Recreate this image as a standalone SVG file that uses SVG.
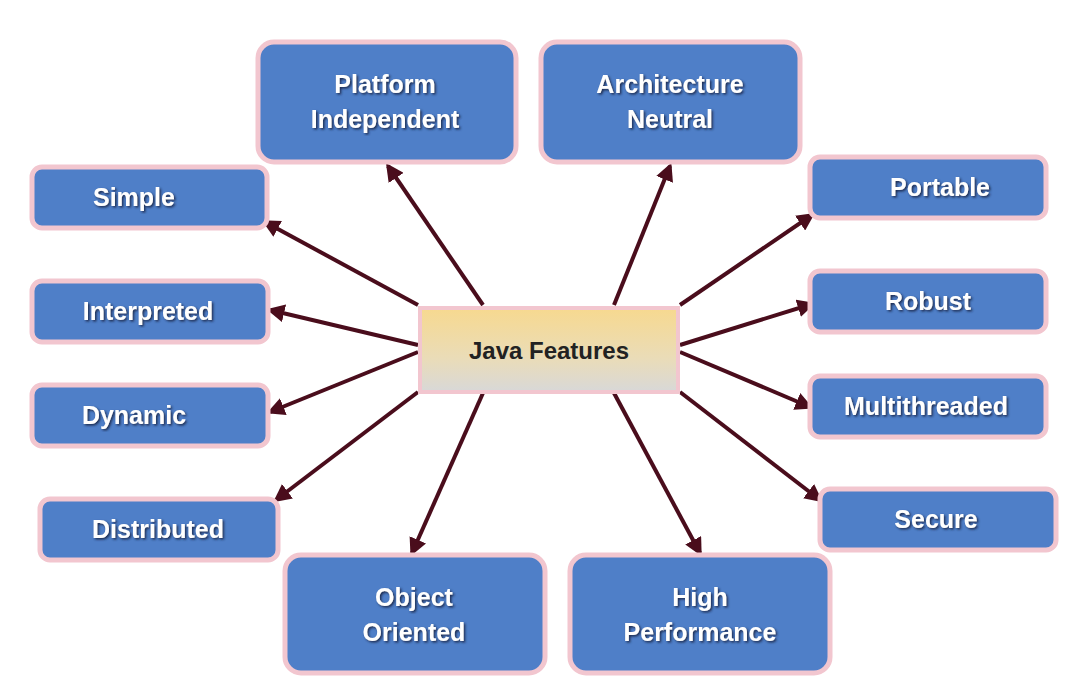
<svg xmlns="http://www.w3.org/2000/svg" width="1080" height="697" viewBox="0 0 1080 697">
<style>
.b{fill:#4f7fc8;stroke:#f2c6cf;stroke-width:5}
.t{font-family:"Liberation Sans",Arial,sans-serif;font-weight:bold;font-size:25px;fill:#fff;text-anchor:middle;filter:url(#sh)}
.c{stroke:#4a0d1c;stroke-width:4;fill:none;marker-end:url(#a)}
</style>
<defs>
<marker id="a" viewBox="0 0 10 10" refX="8" refY="5" markerWidth="4.5" markerHeight="4.5" orient="auto"><path d="M0,0L10,5L0,10z" fill="#4a0d1c"/></marker>
<linearGradient id="g" x1="0" y1="0" x2="0" y2="1"><stop offset="0" stop-color="#f7d98f"/><stop offset="0.6" stop-color="#eadcb8"/><stop offset="1" stop-color="#d8d8d8"/></linearGradient>
<filter id="sh"><feDropShadow dx="1.5" dy="1.5" stdDeviation="0.8" flood-color="#1c2a50"/></filter>
</defs>
<rect width="1080" height="697" fill="#fff"/>
<g id="connectors">
<line class="c" x1="418" y1="305" x2="265" y2="222"/>
<line class="c" x1="483" y1="305" x2="388" y2="166"/>
<line class="c" x1="614" y1="305" x2="670" y2="166"/>
<line class="c" x1="680" y1="305" x2="812" y2="215"/>
<line class="c" x1="418" y1="345" x2="270" y2="310"/>
<line class="c" x1="680" y1="345" x2="812" y2="304"/>
<line class="c" x1="418" y1="352" x2="270" y2="412"/>
<line class="c" x1="680" y1="352" x2="810" y2="407"/>
<line class="c" x1="418" y1="392" x2="276" y2="500"/>
<line class="c" x1="680" y1="392" x2="820" y2="500"/>
<line class="c" x1="483" y1="393" x2="412" y2="553"/>
<line class="c" x1="614" y1="393" x2="700" y2="553"/>
</g>
<g id="center"><rect x="420" y="308" width="258" height="84" fill="url(#g)" stroke="#f2c6cf" stroke-width="4"/><text x="549" y="359" font-family="Liberation Sans,Arial,sans-serif" font-weight="bold" font-size="24" fill="#222" text-anchor="middle">Java Features</text></g>
<g id="simple"><rect class="b" x="32" y="167" width="235" height="61" rx="10"/><text class="t" x="134" y="206">Simple</text></g>
<g id="interpreted"><rect class="b" x="32" y="281" width="236" height="61" rx="10"/><text class="t" x="148" y="320">Interpreted</text></g>
<g id="dynamic"><rect class="b" x="32" y="385" width="236" height="61" rx="10"/><text class="t" x="134" y="424">Dynamic</text></g>
<g id="distributed"><rect class="b" x="40" y="499" width="238" height="61" rx="10"/><text class="t" x="158" y="538">Distributed</text></g>
<g id="platform"><rect class="b" x="258" y="42" width="258" height="120" rx="16"/><text class="t" x="385" y="93">Platform</text><text class="t" x="385" y="128">Independent</text></g>
<g id="architecture"><rect class="b" x="541" y="42" width="259" height="120" rx="16"/><text class="t" x="670" y="93">Architecture</text><text class="t" x="670" y="128">Neutral</text></g>
<g id="portable"><rect class="b" x="810" y="157" width="236" height="61" rx="10"/><text class="t" x="940" y="196">Portable</text></g>
<g id="robust"><rect class="b" x="810" y="271" width="236" height="61" rx="10"/><text class="t" x="928" y="310">Robust</text></g>
<g id="multithreaded"><rect class="b" x="810" y="376" width="236" height="61" rx="10"/><text class="t" x="926" y="415">Multithreaded</text></g>
<g id="secure"><rect class="b" x="820" y="489" width="236" height="61" rx="10"/><text class="t" x="936" y="528">Secure</text></g>
<g id="object"><rect class="b" x="285" y="555" width="260" height="118" rx="16"/><text class="t" x="414" y="606">Object</text><text class="t" x="414" y="641">Oriented</text></g>
<g id="high"><rect class="b" x="570" y="555" width="260" height="118" rx="16"/><text class="t" x="700" y="606">High</text><text class="t" x="700" y="641">Performance</text></g>
</svg>
